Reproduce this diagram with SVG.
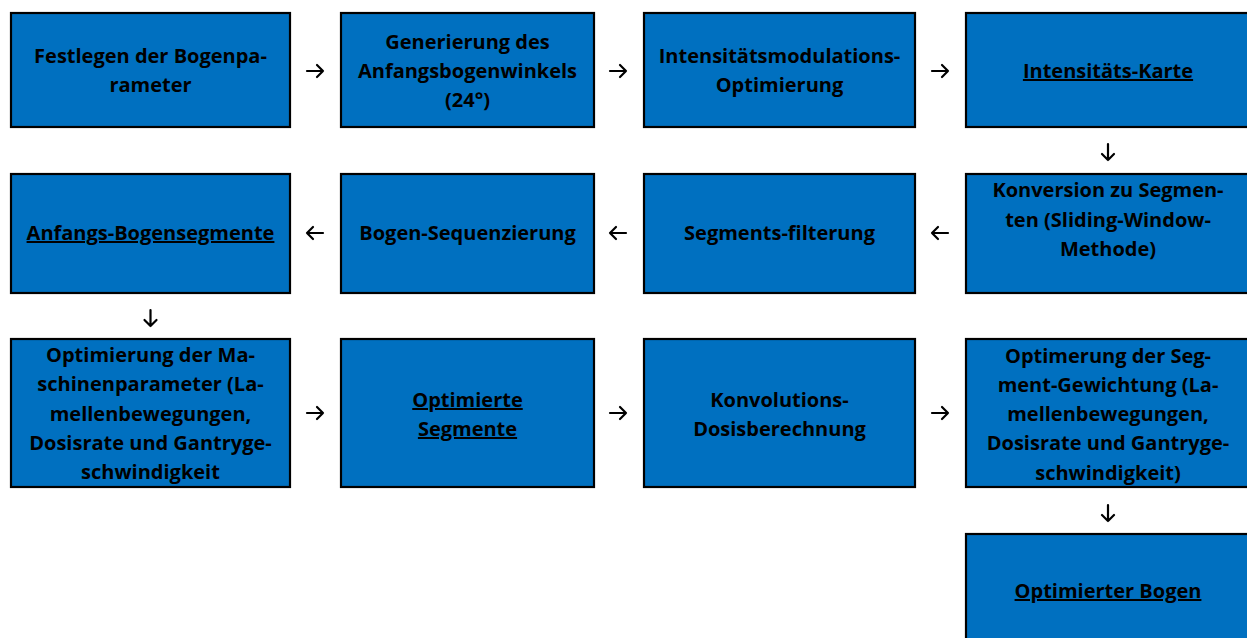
<svg xmlns="http://www.w3.org/2000/svg" width="1247" height="638" viewBox="0 0 1247 638">
<style>
.box{fill:#0070C0;stroke:#000;stroke-width:2.2}
.t{font-family:"Open Sans",Lato,"Liberation Sans",sans-serif;font-weight:bold;font-size:20px;fill:#000;text-anchor:middle}
.u{text-decoration:underline}
.c{fill:none;stroke:#000;stroke-width:2.2;stroke-linecap:round;stroke-linejoin:round}
</style>
<rect width="1247" height="638" fill="#fff"/>
<g id="n1"><rect class="box" x="11" y="13" width="279" height="114"/><text class="t" x="150.5" y="63">Festlegen der Bogenpa-</text><text class="t" x="150.5" y="92">rameter</text></g>
<g id="n2"><rect class="box" x="341" y="13" width="253" height="114"/><text class="t" x="467.5" y="49">Generierung des</text><text class="t" x="467.5" y="78">Anfangsbogenwinkels</text><text class="t" x="467.5" y="107">(24°)</text></g>
<g id="n3"><rect class="box" x="644" y="13" width="271" height="114"/><text class="t" x="779.5" y="63">Intensitätsmodulations-</text><text class="t" x="779.5" y="92">Optimierung</text></g>
<g id="n4"><rect class="box" x="966" y="13" width="284" height="114"/><text class="t u" x="1108" y="78">Intensitäts-Karte</text></g>
<g id="n5"><rect class="box" x="966" y="174" width="284" height="119"/><text class="t" x="1108" y="197">Konversion zu Segmen-</text><text class="t" x="1108" y="227">ten (Sliding-Window-</text><text class="t" x="1108" y="256">Methode)</text></g>
<g id="n6"><rect class="box" x="644" y="174" width="271" height="119"/><text class="t" x="779.5" y="240">Segments-filterung</text></g>
<g id="n7"><rect class="box" x="341" y="174" width="253" height="119"/><text class="t" x="467.5" y="240">Bogen-Sequenzierung</text></g>
<g id="n8"><rect class="box" x="11" y="174" width="279" height="119"/><text class="t u" x="150.5" y="240">Anfangs-Bogensegmente</text></g>
<g id="n9"><rect class="box" x="11" y="339" width="279" height="148"/><text class="t" x="150.5" y="362">Optimierung der Ma-</text><text class="t" x="150.5" y="391">schinenparameter (La-</text><text class="t" x="150.5" y="421">mellenbewegungen,</text><text class="t" x="150.5" y="450">Dosisrate und Gantryge-</text><text class="t" x="150.5" y="479">schwindigkeit</text></g>
<g id="n10"><rect class="box" x="341" y="339" width="253" height="148"/><text class="t u" x="467.5" y="407">Optimierte</text><text class="t u" x="467.5" y="436">Segmente</text></g>
<g id="n11"><rect class="box" x="644" y="339" width="271" height="148"/><text class="t" x="779.5" y="407">Konvolutions-</text><text class="t" x="779.5" y="436">Dosisberechnung</text></g>
<g id="n12"><rect class="box" x="966" y="339" width="284" height="148"/><text class="t" x="1108" y="363">Optimerung der Seg-</text><text class="t" x="1108" y="392">ment-Gewichtung (La-</text><text class="t" x="1108" y="421">mellenbewegungen,</text><text class="t" x="1108" y="450">Dosisrate und Gantryge-</text><text class="t" x="1108" y="480">schwindigkeit)</text></g>
<g id="n13"><rect class="box" x="966" y="534" width="284" height="110"/><text class="t u" x="1108" y="598">Optimierter Bogen</text></g>
<g id="connectors">
<path class="c" d="M307 71H323M317 65L323 71L317 77"/>
<path class="c" d="M610 71H626M620 65L626 71L620 77"/>
<path class="c" d="M932 71H948M942 65L948 71L942 77"/>
<path class="c" d="M1108 144V160M1102 154L1108 160L1114 154"/>
<path class="c" d="M948 233H932M938 227L932 233L938 239"/>
<path class="c" d="M626 233H610M616 227L610 233L616 239"/>
<path class="c" d="M323 233H307M313 227L307 233L313 239"/>
<path class="c" d="M150.5 310V326M144.5 320L150.5 326L156.5 320"/>
<path class="c" d="M307 413H323M317 407L323 413L317 419"/>
<path class="c" d="M610 413H626M620 407L626 413L620 419"/>
<path class="c" d="M932 413H948M942 407L948 413L942 419"/>
<path class="c" d="M1108 505V521M1102 515L1108 521L1114 515"/>
</g>
</svg>
